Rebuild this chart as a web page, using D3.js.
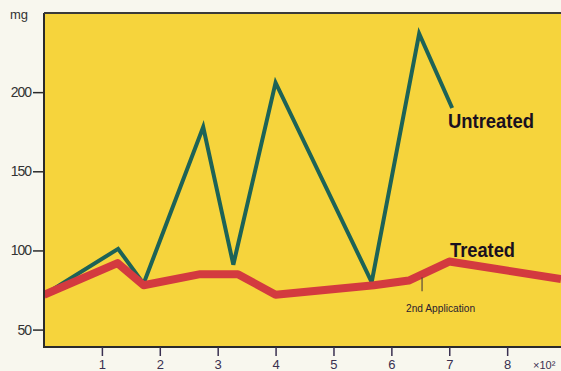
<!DOCTYPE html>
<html><head><meta charset="utf-8">
<script src="https://cdn.jsdelivr.net/npm/d3@7"></script>
<style>
html,body{margin:0;padding:0;background:#f8f7ee;}
svg{display:block;}
</style></head>
<body>
<svg id="chart" width="561" height="371"></svg>
<script>
const untreatedX = [0, 1.28, 1.72, 2.75, 3.27, 4.0, 5.66, 6.48, 7.05];
const untreatedY = [72, 101, 79, 178, 91, 206, 80, 237, 190];
const treatedX = [0, 1.27, 1.72, 2.7, 3.35, 4.0, 5.7, 6.3, 7.0, 8.93];
const treatedY = [72, 92, 78, 85, 85, 72, 78, 81, 93, 82];
const xTicks = [1, 2, 3, 4, 5, 6, 7, 8];
const yTicks = [50, 100, 150, 200];
const yUnit = "mg";
const xUnit = "×10²";
const seriesNames = ["Untreated", "Treated"];
const annotationText = "2nd Application";
const annotationX = 6.53;

const svg = d3.select("#chart");
const W = 561, H = 371;
const m = {left: 44, top: 13, right: 0, bottom: 24};
const x = d3.scaleLinear().domain([0, 8.93]).range([m.left, W]);
const y = d3.scaleLinear().domain([39, 250]).range([H - m.bottom, m.top]);
const condensed = "'Liberation Sans','Arial',sans-serif";

svg.append("rect").attr("width", W).attr("height", H).attr("fill", "#f8f7ee");
svg.append("defs").append("clipPath").attr("id", "clip")
  .append("rect").attr("x", m.left).attr("y", m.top).attr("width", W - m.left).attr("height", H - m.bottom - m.top);
svg.append("rect").attr("x", m.left).attr("y", m.top).attr("width", W - m.left).attr("height", H - m.bottom - m.top)
  .attr("fill", "#f6d43c");

const line = d3.line().x(d => x(d[0])).y(d => y(d[1]));
const g = svg.append("g").attr("clip-path", "url(#clip)");
g.append("path").datum(d3.zip(untreatedX, untreatedY)).attr("d", line)
  .attr("fill", "none").attr("stroke", "#1d6357").attr("stroke-width", 4).attr("stroke-linejoin", "miter");
g.append("path").datum(d3.zip(treatedX, treatedY)).attr("d", line)
  .attr("fill", "none").attr("stroke", "#d33a3f").attr("stroke-width", 8).attr("stroke-linejoin", "round");

// annotation
function interp(xv){for(let i=1;i<treatedX.length;i++){if(xv<=treatedX[i]){const t=(xv-treatedX[i-1])/(treatedX[i]-treatedX[i-1]);return treatedY[i-1]+t*(treatedY[i]-treatedY[i-1]);}}return treatedY[treatedY.length-1];}
svg.append("line").attr("x1", x(annotationX)).attr("x2", x(annotationX))
  .attr("y1", y(interp(annotationX)) + 3).attr("y2", y(interp(annotationX)) + 17)
  .attr("stroke", "#5a4a3a").attr("stroke-width", 1.2);
svg.append("text").attr("x", x(annotationX) - 16).attr("y", 312)
  .attr("font-family", condensed)
  .attr("font-size", 10).attr("fill", "#2a2030")
  .attr("textLength", 69).attr("lengthAdjust", "spacingAndGlyphs").text(annotationText);

// series labels
svg.append("text").attr("x", 448).attr("y", 128)
  .attr("font-family", condensed)
  .attr("font-weight", "bold").attr("font-size", 21).attr("fill", "#1a1020")
  .attr("textLength", 86).attr("lengthAdjust", "spacingAndGlyphs").text(seriesNames[0]);
svg.append("text").attr("x", 450).attr("y", 257)
  .attr("font-family", condensed)
  .attr("font-weight", "bold").attr("font-size", 21).attr("fill", "#1a1020")
  .attr("textLength", 65).attr("lengthAdjust", "spacingAndGlyphs").text(seriesNames[1]);

// axes frame
const axisColor = "#2b2b2b";
svg.append("line").attr("x1", m.left).attr("x2", m.left).attr("y1", m.top).attr("y2", H - m.bottom)
  .attr("stroke", axisColor).attr("stroke-width", 2);
svg.append("line").attr("x1", m.left).attr("x2", W).attr("y1", m.top).attr("y2", m.top)
  .attr("stroke", "#3a3a3a").attr("stroke-width", 2);
svg.append("line").attr("x1", m.left - 1).attr("x2", W).attr("y1", H - m.bottom).attr("y2", H - m.bottom)
  .attr("stroke", axisColor).attr("stroke-width", 2);

// y axis
const yAxis = d3.axisLeft(y).tickValues(yTicks).tickSize(11).tickPadding(2);
const ya = svg.append("g").attr("transform", `translate(${m.left},0)`).call(yAxis);
ya.select(".domain").remove();
ya.selectAll("line").attr("stroke", axisColor).attr("stroke-width", 1.5);
ya.selectAll("text").attr("font-family", "'Liberation Sans','Arial',sans-serif")
  .attr("font-size", 14).attr("fill", "#333").attr("letter-spacing", -1);

// x axis
const xAxis = d3.axisBottom(x).tickValues(xTicks).tickSize(9).tickPadding(4);
const xa = svg.append("g").attr("transform", `translate(0,${H - m.bottom})`).call(xAxis);
xa.select(".domain").remove();
xa.selectAll("line").attr("stroke", "#3a3050").attr("stroke-width", 1.5);
xa.selectAll("text").attr("font-family", "'Liberation Sans','Arial',sans-serif")
  .attr("font-size", 13).attr("fill", "#3a3050");

svg.append("text").attr("x", 533).attr("y", 369)
  .attr("font-family", "'Liberation Sans','Arial',sans-serif")
  .attr("font-size", 11).attr("fill", "#3a3050").text(xUnit);
svg.append("text").attr("x", 10).attr("y", 19)
  .attr("font-family", "'Liberation Sans','Arial',sans-serif")
  .attr("font-size", 13).attr("fill", "#333").text(yUnit);
</script>
</body></html>
